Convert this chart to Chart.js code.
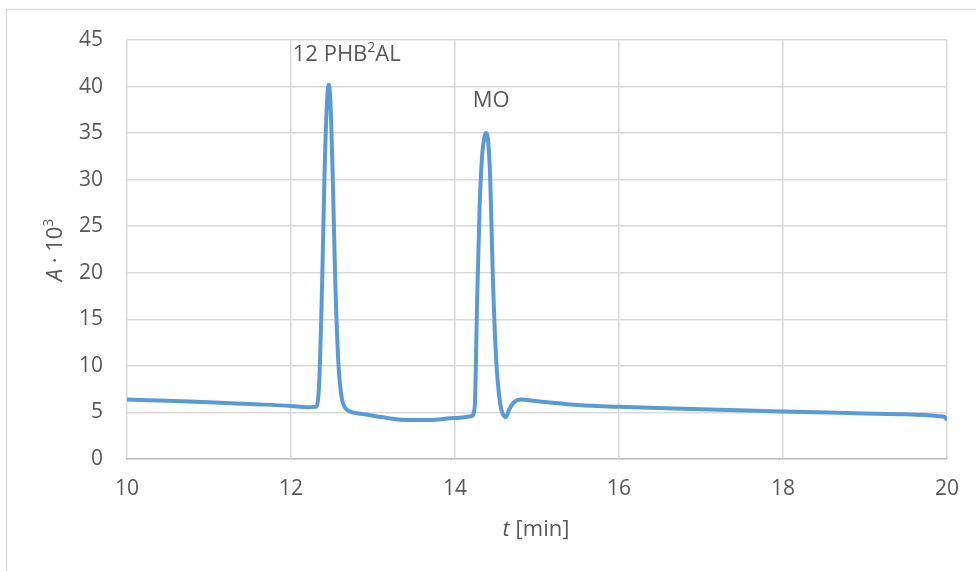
<!DOCTYPE html>
<html>
<head>
<meta charset="utf-8">
<script src="https://cdn.jsdelivr.net/npm/chart.js@4.4.1/dist/chart.umd.min.js"></script>
<style>
    html, body { margin: 0; padding: 0; background: #fff; }
</style>
</head>
<body>
<canvas id="chromatogram" width="976" height="571"></canvas>
<script>
// retention time [min]
const time = [
    10, 10.5, 11, 11.5, 12, 12.2, 12.3, 12.34, 12.38, 12.41, 12.44, 12.46, 12.48, 12.51, 12.54,
    12.58, 12.62, 12.66, 12.72, 12.9, 13.1, 13.4, 13.7, 14.0, 14.2, 14.24, 14.27, 14.3, 14.33,
    14.36, 14.38, 14.4, 14.43, 14.46, 14.5, 14.55, 14.59, 14.62, 14.66, 14.72, 14.8, 15.0, 15.5,
    16, 17, 18, 19, 19.5, 19.9, 19.97, 20
];
// absorbance * 10^3
const absorb = [
    6.4, 6.25, 6.1, 5.9, 5.7, 5.55, 5.6, 7.5, 19, 31, 38.5, 40.2, 38.5, 30, 19,
    10, 6.5, 5.5, 5.1, 4.8, 4.5, 4.2, 4.2, 4.4, 4.6, 5.5, 17, 27, 32.5,
    34.6, 35.0, 34.5, 30, 20, 11, 6, 4.7, 4.5, 5.3, 6.1, 6.4, 6.2, 5.8,
    5.6, 5.35, 5.1, 4.9, 4.8, 4.6, 4.5, 4.2
];
const xTicks = [10, 12, 14, 16, 18, 20];
const yTicks = [0, 5, 10, 15, 20, 25, 30, 35, 40, 45];

// peak names as [base, superscript, rest] and where they sit (t, A)
const peakNames = [["12 PHB", "2", "AL"], ["MO", "", ""]];
const peakAt = [[12.68, 43.4], [14.44, 38.45]];

const textColor = "#595959";
const gridColor = "#d9d9d9";

let points = new Array();
for (let i = 0; i < time.length; i++) {
    points.push({ x: time[i], y: absorb[i] });
}

// draws text pieces one after another, small raised pieces for exponents
function drawRun(c, parts, x, y) {
    let total = 0;
    for (let p of parts) {
        c.font = p.font;
        total += c.measureText(p.text).width;
    }
    let pos = x - total / 2;
    for (let p of parts) {
        c.font = p.font;
        c.fillText(p.text, pos, y + (p.dy || 0));
        pos += c.measureText(p.text).width;
    }
}

const big = "22px 'Open Sans'";
const bigItalic = "italic 22px 'Open Sans'";
const sup = "14px 'Open Sans'";

// frame, axis titles with italic symbols, peak names
const decorations = {
    id: "decorations",
    beforeDraw(chart) {
        let c = chart.ctx;
        c.save();
        c.strokeStyle = gridColor;
        c.lineWidth = 1.5;
        c.strokeRect(6.5, 9.5, 1100, 1100);
        c.restore();
    },
    afterDraw(chart) {
        let c = chart.ctx;
        let sx = chart.scales.x, sy = chart.scales.y;
        c.save();
        c.fillStyle = textColor;
        c.textBaseline = "middle";
        c.textAlign = "left";

        drawRun(c, [
            { text: "t", font: bigItalic },
            { text: " [min]", font: big }
        ], 536, 530);

        for (let i = 0; i < peakNames.length; i++) {
            let n = peakNames[i];
            drawRun(c, [
                { text: n[0], font: big },
                { text: n[1], font: sup, dy: -7 },
                { text: n[2], font: big }
            ], sx.getPixelForValue(peakAt[i][0]), sy.getPixelForValue(peakAt[i][1]));
        }

        c.translate(56, 250);
        c.rotate(-Math.PI / 2);
        drawRun(c, [
            { text: "A", font: bigItalic },
            { text: " \u00B7 10", font: big },
            { text: "3", font: sup, dy: -7 }
        ], 0, 0);
        c.restore();
    }
};

let ctx = document.getElementById("chromatogram");
let chromChart = new Chart(ctx, {
    type: "line",
    plugins: [decorations],
    options: {
        responsive: false,
        animation: false,
        layout: { padding: { top: 40, right: 29, left: 0, bottom: 0 } },
        plugins: { legend: { display: false }, tooltip: { enabled: false } },
        scales: {
            x: {
                type: "linear",
                min: 10,
                max: 20,
                afterBuildTicks: function (s) { s.ticks = xTicks.map(v => ({ value: v })); },
                afterFit: function (s) { s.height = 112; },
                ticks: { color: textColor, padding: 17, font: { family: "'Open Sans'", size: 21 } },
                grid: { color: gridColor, lineWidth: 1.5, drawTicks: false },
                border: { color: "#bfbfbf", width: 1.5 }
            },
            y: {
                min: 0,
                max: 45,
                afterBuildTicks: function (s) { s.ticks = yTicks.map(v => ({ value: v })); },
                afterFit: function (s) { s.width = 127; },
                ticks: { color: textColor, padding: 24, font: { family: "'Open Sans'", size: 21 } },
                grid: { color: gridColor, lineWidth: 1.5, drawTicks: false },
                border: { display: false }
            }
        }
    },
    data: {
        datasets: [{
            label: "A",
            data: points,
            borderColor: "#5b9bd5",
            borderWidth: 4,
            pointRadius: 0,
            cubicInterpolationMode: "monotone"
        }]
    }
});
</script>
</body>
</html>
